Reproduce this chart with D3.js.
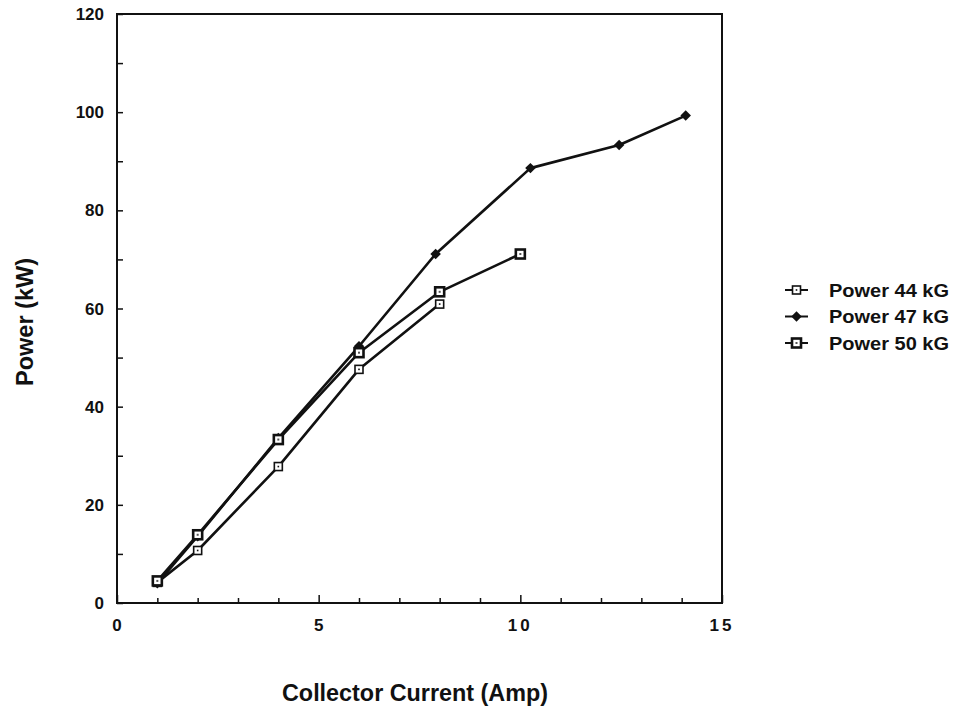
<!DOCTYPE html>
<html><head><meta charset="utf-8">
<script src="https://cdn.jsdelivr.net/npm/d3@7"></script>
<style>
body{margin:0;background:#fff;}
text{font-family:"Liberation Sans",Arial,sans-serif;font-weight:bold;fill:#111;}
</style></head>
<body><svg id="c" width="956" height="713"></svg>
<script>
const x44 = [1, 2, 4, 6, 8];
const y44 = [4.2, 10.7, 27.8, 47.6, 60.9];
const x47 = [1, 2, 4, 6, 7.9, 10.25, 12.45, 14.1];
const y47 = [4.0, 13.6, 33.6, 52.3, 71.1, 88.6, 93.3, 99.3];
const x50 = [1, 2, 4, 6, 8, 10];
const y50 = [4.5, 13.9, 33.3, 51.0, 63.4, 71.1];
const seriesNames = ["Power 44 kG", "Power 47 kG", "Power 50 kG"];
const xTicks = [0, 5, 10, 15];
const yTicks = [0, 20, 40, 60, 80, 100, 120];

const svg = d3.select("#c");
const L = 117, R = 722, T = 14, B = 603;
const x = d3.scaleLinear().domain([0, 15]).range([L, R]);
const y = d3.scaleLinear().domain([0, 120]).range([B, T]);

// frame
svg.append("rect").attr("x", L).attr("y", T).attr("width", R - L).attr("height", B - T)
  .attr("fill", "none").attr("stroke", "#111").attr("stroke-width", 2);

// x ticks (inward)
const xAxis = d3.axisBottom(x).tickValues(d3.range(0, 16, 1)).tickSize(-6).tickFormat("");
const gx = svg.append("g").attr("transform", `translate(0,${B})`).call(xAxis);
gx.select(".domain").remove();
gx.selectAll(".tick line").attr("stroke", "#111").attr("stroke-width", 1.5)
  .attr("y2", d => xTicks.includes(d) ? -8 : -5);
svg.selectAll(".xl").data(xTicks).enter().append("text")
  .attr("x", d => x(d)).attr("y", 631).attr("text-anchor", "middle")
  .attr("font-size", 17).attr("letter-spacing", d => d >= 10 ? "3px" : "0px")
  .text(d => d);

// y ticks (inward)
const yAxis = d3.axisLeft(y).tickValues(d3.range(0, 121, 10)).tickSize(-6).tickFormat("");
const gy = svg.append("g").attr("transform", `translate(${L},0)`).call(yAxis);
gy.select(".domain").remove();
gy.selectAll(".tick line").attr("stroke", "#111").attr("stroke-width", 1.5);
svg.selectAll(".yl").data(yTicks).enter().append("text")
  .attr("x", 104).attr("y", d => y(d) + 6).attr("text-anchor", "end")
  .attr("font-size", 17).text(d => d);

// axis titles
svg.append("text").attr("x", 415).attr("y", 701).attr("text-anchor", "middle")
  .attr("font-size", 23).attr("textLength", 266).attr("lengthAdjust", "spacingAndGlyphs")
  .text("Collector Current (Amp)");
svg.append("text").attr("transform", "translate(33,322) rotate(-90)").attr("text-anchor", "middle")
  .attr("font-size", 23).attr("textLength", 128).attr("lengthAdjust", "spacingAndGlyphs")
  .text("Power (kW)");

const line = d3.line().x(d => x(d[0])).y(d => y(d[1]));
const series = [
  {pts: d3.zip(x44, y44), m: "open"},
  {pts: d3.zip(x47, y47), m: "diamond"},
  {pts: d3.zip(x50, y50), m: "heavy"}
];

function marker(g, m, cx, cy) {
  if (m === "open") {
    g.append("rect").attr("x", cx - 4).attr("y", cy - 4).attr("width", 8).attr("height", 8)
      .attr("fill", "#fff").attr("stroke", "#111").attr("stroke-width", 1.6);
    g.append("rect").attr("x", cx - 0.8).attr("y", cy - 0.8).attr("width", 1.6).attr("height", 1.6).attr("fill", "#111");
  } else if (m === "diamond") {
    g.append("path").attr("d", d3.symbol().type(d3.symbolDiamond2).size(70)()).attr("transform", `translate(${cx},${cy})`)
      .attr("fill", "#111");
  } else {
    g.append("rect").attr("x", cx - 4.5).attr("y", cy - 4.5).attr("width", 9).attr("height", 9)
      .attr("fill", "#fff").attr("stroke", "#111").attr("stroke-width", 2.6);
    g.append("rect").attr("x", cx - 1).attr("y", cy - 1).attr("width", 2).attr("height", 2).attr("fill", "#555");
  }
}

series.forEach(s => {
  svg.append("path").datum(s.pts).attr("d", line).attr("fill", "none")
    .attr("stroke", "#111").attr("stroke-width", 2.6).attr("stroke-linejoin", "round");
});
series.forEach(s => {
  const g = svg.append("g");
  s.pts.forEach(p => marker(g, s.m, x(p[0]), y(p[1])));
});

// legend
seriesNames.forEach((n, i) => {
  const ly = 290 + i * 26.5;
  svg.append("line").attr("x1", 785).attr("x2", 808).attr("y1", ly).attr("y2", ly)
    .attr("stroke", "#111").attr("stroke-width", 2);
  marker(svg.append("g"), series[i].m, 796.5, ly);
  svg.append("text").attr("x", 829).attr("y", ly + 6.5).attr("font-size", 18.5)
    .attr("textLength", 120).attr("lengthAdjust", "spacingAndGlyphs").text(n);
});
</script></body></html>
